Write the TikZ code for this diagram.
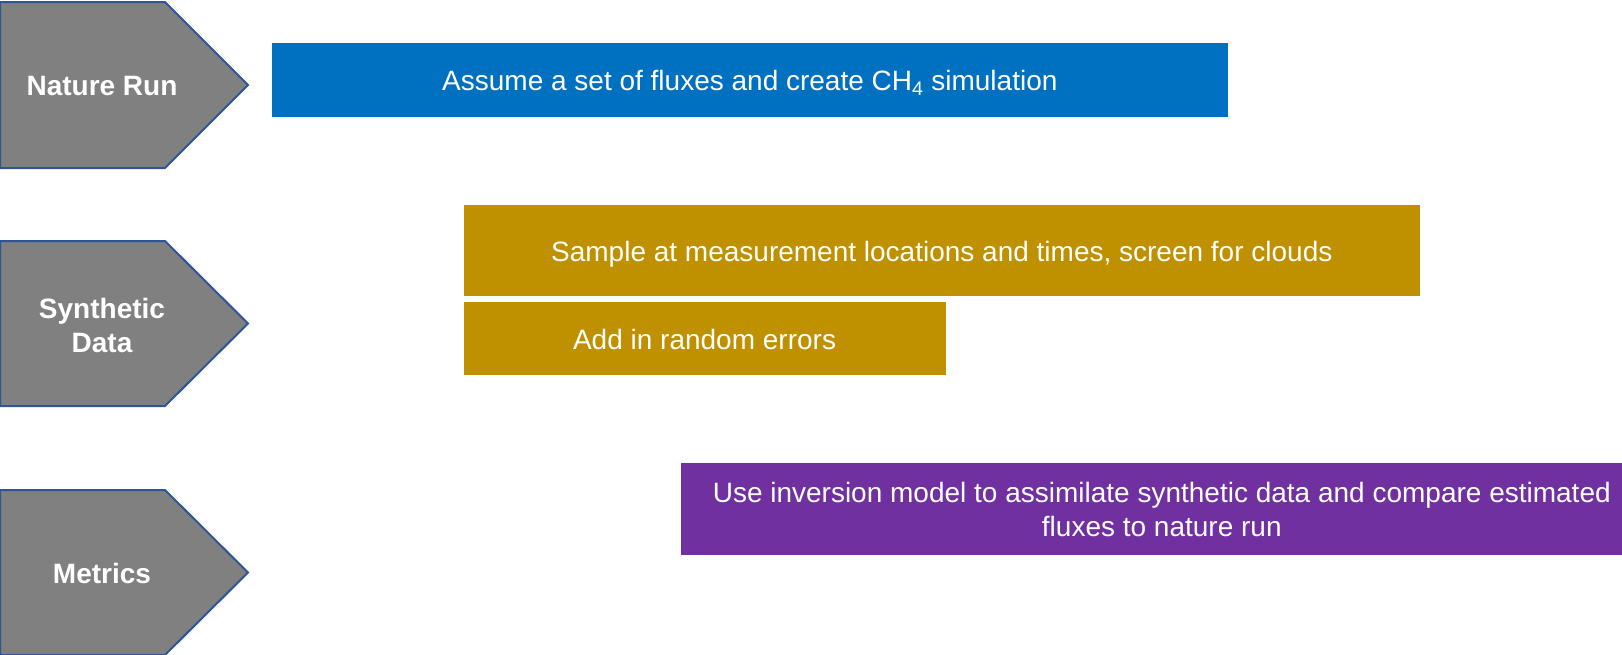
\documentclass[tikz,border=0pt]{standalone}
\usepackage{fontspec}
\setmainfont{Liberation Sans}
\definecolor{chevgray}{HTML}{808080}
\definecolor{chevline}{HTML}{2F5597}
\definecolor{stepblue}{HTML}{0070C0}
\definecolor{stepgold}{HTML}{BF9000}
\definecolor{steppurple}{HTML}{7030A0}
\newcommand{\lowered}[2]{\raisebox{-#1}[\height][\depth]{#2}}
\tikzset{
  chevron/.style={fill=chevgray, draw=chevline, line width=2pt, line join=miter},
  chevlabel/.style={text=white, font=\fontsize{28}{34}\selectfont\bfseries, align=center, inner sep=0pt},
  taskbox/.style={anchor=north west, inner sep=0pt, text=white, align=center,
    font=\fontsize{28}{34}\selectfont, draw=white, line width=0.6pt},
}
\begin{document}
\begin{tikzpicture}[x=1pt,y=-1pt]
\useasboundingbox (0,0) rectangle (1622,654);

% stage chevrons
\draw[chevron] (0,2) -- (165,2) -- (248,85) -- (165,168) -- (0,168) -- cycle;
\node[chevlabel] (nature) at (102,86) {Nature Run};

\draw[chevron] (0,241) -- (165,241) -- (248,323.5) -- (165,406) -- (0,406) -- cycle;
\node[chevlabel] (synth) at (102,325) {Synthetic\\Data};

\draw[chevron] (0,490) -- (165,490) -- (248,572.5) -- (165,655) -- (0,655) -- cycle;
\node[chevlabel] (metrics) at (102,573) {Metrics};

% task bars
\node[taskbox, fill=stepblue, minimum width=957pt, minimum height=74.5pt] (simul) at (271,42.4)
  {\lowered{3pt}{Assume a set of fluxes and create CH\textsubscript{4} simulation}};

\node[taskbox, fill=stepgold, minimum width=957pt, minimum height=92pt] (sample) at (463,203.8)
  {\lowered{4pt}{Sample at measurement locations and times, screen for clouds}};

\node[taskbox, fill=stepgold, minimum width=482.5pt, minimum height=73.5pt] (errors) at (463,301)
  {\lowered{1pt}{Add in random errors}};

\node[taskbox, fill=steppurple, minimum width=964pt, minimum height=93pt] (invert) at (679.5,462.4)
  {Use inversion model to assimilate synthetic data and compare estimated\\fluxes to nature run};
\end{tikzpicture}
\end{document}
